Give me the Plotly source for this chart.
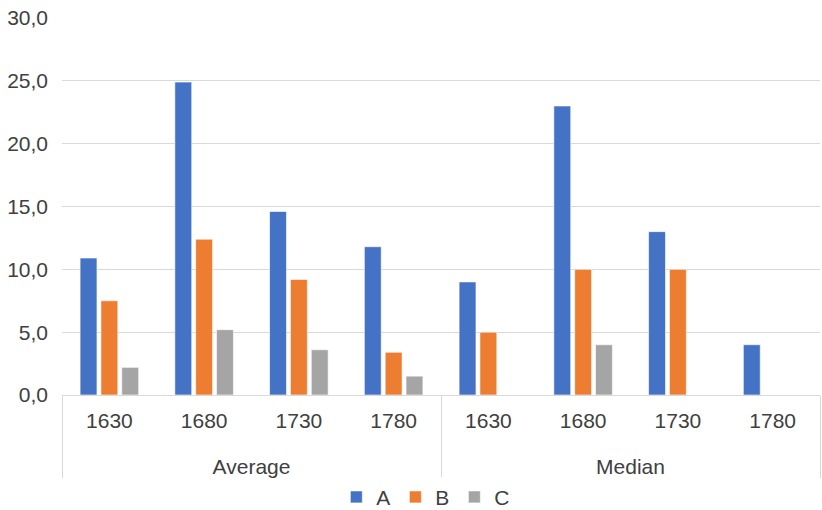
import plotly.graph_objects as go

groups = ["Average"] * 4 + ["Median"] * 4
years = ["1630", "1680", "1730", "1780"] * 2
series_names = ["A", "B", "C"]
vals_A = [10.9, 24.9, 14.6, 11.8, 9, 23, 13, 4]
vals_B = [7.5, 12.4, 9.2, 3.4, 5, 10, 10, 0]
vals_C = [2.2, 5.2, 3.6, 1.5, 0, 4, 0, 0]
colors = ["#4472C4", "#ED7D31", "#A5A5A5"]

# second-level labels pushed one line down, like the reference's axis layout
group_labels = ["<br>" + g for g in groups]

fig = go.Figure()
for name, vals, col in zip(series_names, [vals_A, vals_B, vals_C], colors):
    fig.add_trace(go.Bar(
        x=[group_labels, years], y=vals, name=name,
        marker=dict(color=col, line=dict(color="rgba(255,255,255,0.6)", width=1)),
    ))

font = dict(family="Liberation Sans, Arial, sans-serif", size=21, color="#404040")
fig.update_layout(
    width=822, height=510,
    margin=dict(l=62, r=2, t=18, b=115),
    paper_bgcolor="white", plot_bgcolor="white",
    barmode="group", bargap=0.34, bargroupgap=0.19,
    separators=", ",
    font=font,
    showlegend=True,
    legend=dict(orientation="h", x=0.48, xanchor="center",
                yref="container", y=0.025, yanchor="middle",
                font=dict(size=21, color="#404040"), itemwidth=30, traceorder="normal"),
    yaxis=dict(range=[0, 30], dtick=5, tickformat=".1f", showgrid=True,
               gridcolor="#D9D9D9", gridwidth=1, zeroline=False, showline=False,
               ticks="", tickfont=font, automargin=False, ticklabelstandoff=13),
    xaxis=dict(type="multicategory", showline=True, linecolor="#D9D9D9", linewidth=1,
               showdividers=True, dividercolor="#D9D9D9", dividerwidth=1,
               ticks="", tickfont=font, automargin=False, ticklabelstandoff=7),
)
fig.write_html("out.html", config={"displayModeBar": False},
               post_script="document.body.style.margin='0';")
